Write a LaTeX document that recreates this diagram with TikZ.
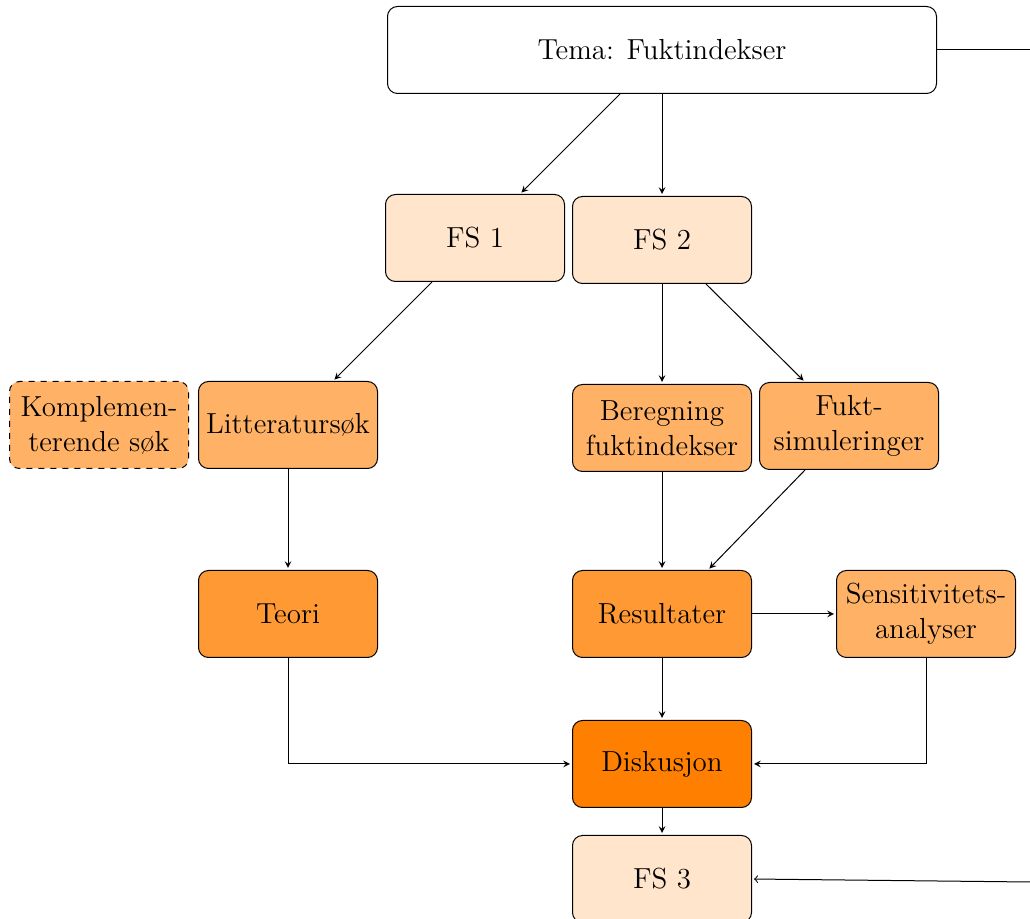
\documentclass[tikz,border=0pt]{standalone}
\usetikzlibrary{calc,arrows}
\begin{document}
\begin{tikzpicture}[x=0.5pt,y=-0.5pt,
  box/.style={draw, rounded corners=5pt, minimum width=89.5pt, minimum height=43.5pt,
    inner sep=2pt, align=center, font=\fontsize{14.5}{17.5}\selectfont},
  c1/.style={box, fill=orange!20},
  c2/.style={box, fill=orange!60},
  c3/.style={box, fill=orange!80},
  c4/.style={box, fill=orange},
  arr/.style={-stealth, shorten >=1pt},
  every path/.style={line width=0.5pt}]
\useasboundingbox (0,0) rectangle (1030,919);
\node[box, minimum width=274.5pt] (tema) at (662,50) {Tema: Fuktindekser};
\node[c1] (fs1) at (475,238) {FS 1};
\node[c1] (fs2) at (662,240) {FS 2};
\node[c2, dashed] (komp) at (99,425) {Komplemen-\\terende søk};
\node[c2] (litt) at (288,425) {Litteratursøk};
\node[c2] (ber) at (662,428) {Beregning\\fuktindekser};
\node[c2] (fukt) at (849,426) {Fukt-\\simuleringer};
\node[c3] (teori) at (288,614) {Teori};
\node[c3] (res) at (662,614) {Resultater};
\node[c2] (sens) at (926,614) {Sensitivitets-\\analyser};
\node[c4] (disk) at (662,764) {Diskusjon};
\node[c1] (fs3) at (662,879) {FS 3};
\coordinate (r1) at (1030,50);
\coordinate (r2) at (1030,882);

\draw[arr] ($(tema.south)+(-42,0)$) -- ($(fs1.north)+(45,0)$);
\draw[arr] (tema.south) -- (fs2.north);
\draw (tema.east) -- (r1);
\draw[->, shorten >=1pt] (r2) -- (fs3.east);
\draw[arr] ($(fs1.south)+(-43,0)$) -- ($(litt.north)+(45,0)$);
\draw[arr] (fs2.south) -- (ber.north);
\draw[arr] ($(fs2.south)+(44,0)$) -- ($(fukt.north)+(-44,0)$);
\draw[arr] (litt.south) -- (teori.north);
\draw[arr] (ber.south) -- (res.north);
\draw[arr] ($(fukt.south)+(-44,0)$) -- ($(res.north)+(46,0)$);
\draw[arr] (res.east) -- (sens.west);
\draw[arr] (res.south) -- (disk.north);
\draw[arr] (teori.south) |- (disk.west);
\draw[arr] (sens.south) |- (disk.east);
\draw[arr] (disk.south) -- (fs3.north);
\end{tikzpicture}
\end{document}
